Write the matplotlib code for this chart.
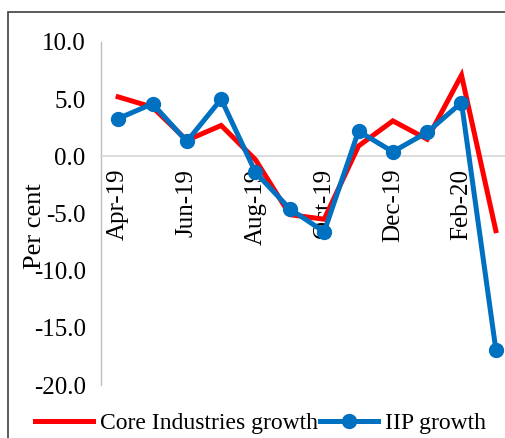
"""
Core industries growth vs IIP growth, Apr-19 to Mar-20.
"""

import numpy as np
import matplotlib
matplotlib.use('Agg')
import matplotlib.pyplot as plt
from matplotlib.patches import Rectangle

### Data
months     = ['Apr-19', 'May-19', 'Jun-19', 'Jul-19', 'Aug-19', 'Sep-19',
              'Oct-19', 'Nov-19', 'Dec-19', 'Jan-20', 'Feb-20', 'Mar-20']
core_growth = [5.2, 4.3, 1.4, 2.7, -0.3, -5.1, -5.5, 0.9, 3.1, 1.5, 7.1, -6.5] # per cent
iip_growth  = [3.3, 4.6, 1.3, 5.0, -1.4, -4.6, -6.6, 2.2, 0.4, 2.1, 4.7, -16.9] # per cent
y_ticks     = [10.0, 5.0, 0.0, -5.0, -10.0, -15.0, -20.0]

### Style
plt.rcParams['font.family'] = ['Liberation Serif', 'DejaVu Serif']
font_size = 17
tick_size = 18
red  = '#ff0000'
blue = '#0070c0'

### Plot
fig = plt.figure(figsize=(5.05, 4.38), dpi=100)
ax = fig.add_axes([101/505, 53/438, 412/505, 343/438])

# spines first (moving a spine resets the ticks)
ax.spines['top'].set_visible(False)
ax.spines['right'].set_visible(False)
ax.spines['bottom'].set_position(('data', 0))
ax.spines['bottom'].set_color('#d9d9d9')
ax.spines['bottom'].set_linewidth(1.3)
ax.spines['left'].set_color('#bfbfbf')
ax.spines['left'].set_linewidth(1.0)

x = np.arange(len(months))
ax.plot(x, core_growth, '-', color=red, linewidth=3.6, solid_joinstyle='miter',
        label='Core Industries growth', zorder=3)
ax.plot(x, iip_growth, '-o', color=blue, linewidth=3.6, markersize=10,
        label='IIP growth', zorder=4, clip_on=False)

# axes
ax.set_xlim(-0.5, len(months) - 0.5)
ax.set_ylim(-20, 10)
ax.set_yticks(y_ticks)
ax.set_yticklabels([f'{v:.1f}' for v in y_ticks], fontsize=tick_size)
ax.set_xticks(x[::2])
ax.set_xticklabels(months[::2], rotation=90, fontsize=tick_size, va='top', ha='center')
ax.tick_params(axis='both', length=0)
ax.tick_params(axis='y', pad=11)
ax.tick_params(axis='x', pad=9)

ax.set_ylabel('Per cent', fontsize=19, va='center')
ax.yaxis.set_label_coords(-0.16, 0.464)

# chart border
fig.patches.append(Rectangle((8/505, -0.2), 1.2, 1.2 - 12/438,
                             transform=fig.transFigure, fill=False,
                             edgecolor='#404040', linewidth=1.2))

# legend
fig.legend(loc='center left', bbox_to_anchor=(35/505, 15/438), ncol=2,
           frameon=False, fontsize=font_size, handlelength=2.45,
           handletextpad=0.3, columnspacing=0.1, borderpad=0, borderaxespad=0)

fig.savefig('out.png', dpi=100)
